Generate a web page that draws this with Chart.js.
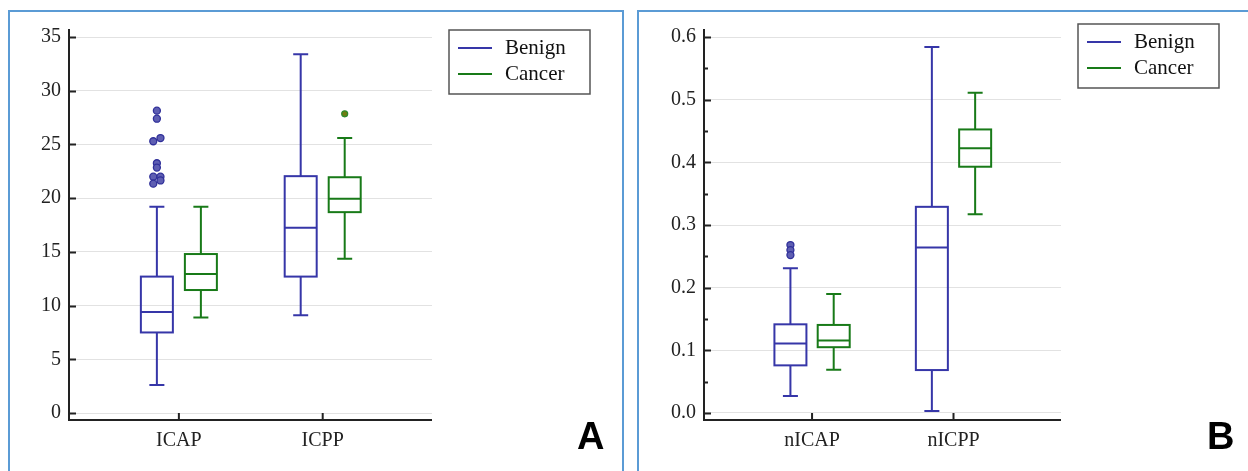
<!DOCTYPE html>
<html>
<head>
<meta charset="utf-8">
<script src="https://cdn.jsdelivr.net/npm/chart.js@4.4.0/dist/chart.umd.min.js"></script>
<style>
  body { margin: 0; background: #fff; width: 1248px; height: 471px; overflow: hidden; position: relative; }
  .panel { position: absolute; border: 2px solid #5b9bd5; box-sizing: border-box; }
  .wrap { position: absolute; top: 0; height: 471px; }
</style>
</head>
<body>
<div class="panel" style="left:8px;top:10px;width:616px;height:490px"></div>
<div class="panel" style="left:637px;top:10px;width:700px;height:490px"></div>
<div class="wrap" style="left:0;width:625px"><canvas id="chartA"></canvas></div>
<div class="wrap" style="left:625px;width:623px"><canvas id="chartB"></canvas></div>
<script>
// panel A data: [min, q1, median, q3, max]
const catsA = ['ICAP', 'ICPP'];
const benignA = [[2.6, 7.5, 9.4, 12.7, 19.2], [9.1, 12.7, 17.25, 22.05, 33.4]];
const cancerA = [[8.9, 11.45, 12.95, 14.8, 19.2], [14.35, 18.7, 19.95, 21.95, 25.6]];
const benignOutA = [[], [], ];
benignOutA[0] = [28.15, 27.4, 25.6, 25.3, 23.25, 22.85, 22.0, 22.0, 21.65, 21.35];
const cancerOutA = [[], [27.85]];
const ticksA = [0, 5, 10, 15, 20, 25, 30, 35];

// panel B data
const catsB = ['nICAP', 'nICPP'];
const benignB = [[0.027, 0.076, 0.111, 0.1415, 0.231], [0.003, 0.0685, 0.264, 0.329, 0.584]];
const cancerB = [[0.069, 0.105, 0.1155, 0.1405, 0.19], [0.317, 0.393, 0.4225, 0.4525, 0.511]];
const benignOutB = [[0.268, 0.26, 0.252], []];
const cancerOutB = [[], []];
const ticksB = [0, 0.1, 0.2, 0.3, 0.4, 0.5, 0.6];
const minorB = [0.05, 0.15, 0.25, 0.35, 0.45, 0.55];

const BLUE = '#3636a8';
const GREEN = '#187a18';
const GROUP = 0.153;
const jitter = [0, 0, 1, -1, 0, 0, -1, 1, 1, -1];

function outPoints(groups, side) {
  const pts = [];
  groups.forEach((vals, i) => {
    vals.forEach((v, j) => {
      const jx = vals.length > 3 ? (jitter[j] || 0) * 0.025 : 0;
      pts.push({ x: i + 1 + side * GROUP + jx, y: v });
    });
  });
  return pts;
}

const boxPlugin = {
  id: 'boxes',
  beforeDatasetsDraw(chart, args, opts) {
    const ctx = chart.ctx, xs = chart.scales.x, ys = chart.scales.y;
    const draw = (s, x, color) => {
      const px = xs.getPixelForValue(x);
      const [mn, q1, md, q3, mx] = s.map(v => ys.getPixelForValue(v));
      ctx.save();
      ctx.strokeStyle = color;
      ctx.lineWidth = 2;
      ctx.strokeRect(px - 16, q3, 32, q1 - q3);
      ctx.beginPath();
      ctx.moveTo(px - 16, md); ctx.lineTo(px + 16, md);
      ctx.moveTo(px, q3); ctx.lineTo(px, mx);
      ctx.moveTo(px, q1); ctx.lineTo(px, mn);
      ctx.moveTo(px - 7.5, mx); ctx.lineTo(px + 7.5, mx);
      ctx.moveTo(px - 7.5, mn); ctx.lineTo(px + 7.5, mn);
      ctx.stroke();
      ctx.restore();
    };
    opts.benign.forEach((s, i) => draw(s, i + 1 - GROUP, BLUE));
    opts.cancer.forEach((s, i) => draw(s, i + 1 + GROUP, GREEN));
  },
  afterDraw(chart, args, opts) {
    const ctx = chart.ctx, a = chart.chartArea, ys = chart.scales.y, xs = chart.scales.x;
    ctx.save();
    ctx.strokeStyle = '#222';
    ctx.lineWidth = 2;
    ctx.beginPath();
    ctx.moveTo(a.left, a.top); ctx.lineTo(a.left, a.bottom);
    ctx.lineTo(a.right, a.bottom);
    opts.ticks.forEach(v => {
      const y = Math.round(ys.getPixelForValue(v)) + 0.5;
      ctx.moveTo(a.left, y); ctx.lineTo(a.left + 7, y);
    });
    (opts.minor || []).forEach(v => {
      const y = Math.round(ys.getPixelForValue(v)) + 0.5;
      ctx.moveTo(a.left, y); ctx.lineTo(a.left + 4, y);
    });
    [1, 2].forEach(v => {
      const x = xs.getPixelForValue(v);
      ctx.moveTo(x, a.bottom); ctx.lineTo(x, a.bottom - 7);
    });
    ctx.stroke();
    ctx.lineWidth = 1;
    ctx.lineJoin = 'miter';
    // legend
    const L = opts.legend;
    ctx.strokeStyle = '#555';
    ctx.lineWidth = 1.5;
    ctx.strokeRect(L.x, L.y, L.w, L.h);
    ctx.font = '21px "Liberation Serif"';
    ctx.textBaseline = 'middle';
    ctx.fillStyle = '#111';
    [['Benign', BLUE, L.y + 18], ['Cancer', GREEN, L.y + 44]].forEach(([t, c, y]) => {
      ctx.strokeStyle = c;
      ctx.lineWidth = 2;
      ctx.beginPath();
      ctx.moveTo(L.x + 9, y); ctx.lineTo(L.x + 43, y);
      ctx.stroke();
      ctx.fillText(t, L.x + 56, y);
    });
    ctx.font = 'bold 38px "Liberation Sans"';
    ctx.textBaseline = 'alphabetic';
    ctx.fillStyle = '#000';
    ctx.fillText(opts.letter, opts.letterX, 449);
    ctx.restore();
  }
};

function makeChart(id, cats, benign, cancer, bOut, cOut, ticks, minor, yMin, yMax, padRight, yWidth, legend, letter, letterX, fmt) {
  return new Chart(document.getElementById(id), {
    type: 'scatter',
    data: {
      datasets: [
        {
          label: 'Benign',
          data: outPoints(bOut, -1),
          pointRadius: 3.5,
          pointBackgroundColor: '#5e5eb2',
          pointBorderColor: '#30309a',
          pointBorderWidth: 1.3
        },
        {
          label: 'Cancer',
          data: outPoints(cOut, 1),
          pointRadius: 3,
          pointBackgroundColor: '#6e7d10',
          pointBorderColor: '#2b8a2b',
          pointBorderWidth: 1.2
        }
      ]
    },
    options: {
      responsive: true,
      maintainAspectRatio: false,
      animation: false,
      layout: { padding: { top: 29, right: padRight, left: 0, bottom: 0 } },
      plugins: {
        legend: { display: false },
        tooltip: { enabled: false },
        boxes: { benign, cancer, ticks, minor, legend, letter, letterX }
      },
      scales: {
        x: {
          type: 'linear',
          min: 0.236,
          max: 2.76,
          afterBuildTicks: s => { s.ticks = [{ value: 1 }, { value: 2 }]; },
          afterFit: s => { s.height = 51; },
          grid: { display: false, drawTicks: false },
          border: { display: false },
          ticks: {
            padding: 9,
            color: '#222',
            font: { family: 'Liberation Serif', size: 20 },
            callback: v => cats[v - 1]
          }
        },
        y: {
          min: yMin,
          max: yMax,
          afterBuildTicks: s => { s.ticks = ticks.map(v => ({ value: v })); },
          afterFit: s => { s.width = yWidth; },
          grid: { color: '#e2e2e2', lineWidth: 1, drawTicks: false },
          border: { display: false },
          ticks: {
            padding: 8,
            color: '#222',
            font: { family: 'Liberation Serif', size: 20 },
            callback: fmt
          }
        }
      }
    },
    plugins: [boxPlugin]
  });
}

makeChart('chartA', catsA, benignA, cancerA, benignOutA, cancerOutA, ticksA, [], -0.65, 35.75, 193, 69,
  { x: 449, y: 30, w: 141, h: 64 }, 'A', 577, v => String(v));
makeChart('chartB', catsB, benignB, cancerB, benignOutB, cancerOutB, ticksB, minorB, -0.0112, 0.6128, 187, 79,
  { x: 453, y: 24, w: 141, h: 64 }, 'B', 582, v => v.toFixed(1));
</script>
</body>
</html>
